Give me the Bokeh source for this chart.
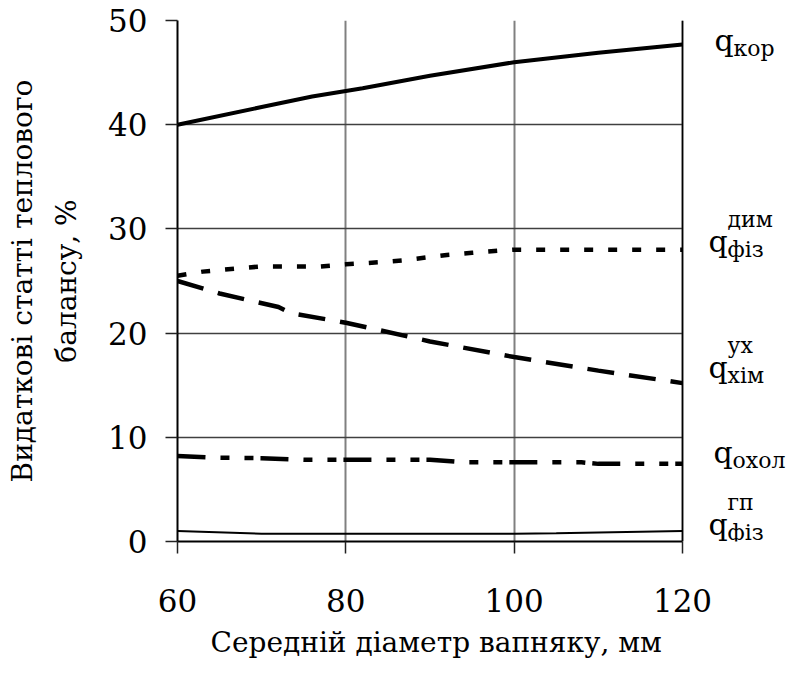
from bokeh.plotting import figure
from bokeh.models import Range1d, FixedTicker, Span, Title
from bokeh.core.properties import value
from bokeh.embed import file_html
from bokeh.resources import INLINE

# ---- data ----
x_ticks = [60, 80, 100, 120]
y_ticks = [0, 10, 20, 30, 40, 50]

x_kor = [60, 70, 76, 82, 90, 100, 110, 120]
y_kor = [40.0, 41.7, 42.7, 43.5, 44.7, 46.0, 46.9, 47.7]

x_dym = [60, 63, 67, 70, 77, 80, 84, 87, 90, 92, 95, 98, 100, 120]
y_dym = [25.5, 25.9, 26.2, 26.4, 26.4, 26.6, 26.8, 27.0, 27.3, 27.5, 27.7, 27.9, 28.0, 28.0]

x_xim = [60, 65, 72, 73.5, 80, 90, 100, 110, 120]
y_xim = [25.0, 23.8, 22.5, 21.9, 21.0, 19.2, 17.7, 16.4, 15.2]

x_oxol = [60, 64, 70, 75, 90, 94, 100, 108, 110, 120]
y_oxol = [8.2, 8.05, 8.0, 7.85, 7.85, 7.6, 7.6, 7.6, 7.45, 7.45]

x_gp = [60, 70, 100, 105, 120]
y_gp = [1.0, 0.75, 0.75, 0.78, 1.0]

x_label = "Середній діаметр вапняку, мм"
y_label = "Видаткові статті теплового\nбалансу, %"

FONT = "DejaVu Serif"

W, H = 787, 674
B_LEFT, B_TOP, B_BOTTOM = 177, 20, 133
DATA_W = 505                      # pixel width of the 60..120 data area
FRAME_W, FRAME_H = W - B_LEFT, H - B_TOP - B_BOTTOM
ppx = DATA_W / (x_ticks[-1] - x_ticks[0])
ppu = FRAME_H / (y_ticks[-1] - y_ticks[0])
x_end = x_ticks[-1] + (FRAME_W - DATA_W) / ppx

p = figure(frame_width=FRAME_W, frame_height=FRAME_H,
           output_backend="svg", toolbar_location=None,
           x_range=Range1d(x_ticks[0], x_end), y_range=Range1d(y_ticks[0], y_ticks[-1]),
           min_border_left=B_LEFT, min_border_right=0,
           min_border_top=B_TOP, min_border_bottom=B_BOTTOM,
           background_fill_color="white", border_fill_color="white")
p.outline_line_color = None

p.xaxis.ticker = FixedTicker(ticks=x_ticks)
p.yaxis.ticker = FixedTicker(ticks=y_ticks)
p.xaxis.bounds = (x_ticks[0], x_ticks[-1])

for ax in (p.xaxis, p.yaxis):
    ax.axis_line_color = "black"
    ax.axis_line_width = 2
    ax.major_tick_line_color = "#222222"
    ax.major_tick_line_width = 1.5
    ax.major_tick_out = 12
    ax.major_tick_in = 0
    ax.minor_tick_line_color = None
    ax.major_label_text_font = FONT
    ax.major_label_text_font_size = "31px"
    ax.major_label_text_color = "black"
    ax.axis_label_text_font = FONT
    ax.axis_label_text_font_size = "28px"
    ax.axis_label_text_font_style = "normal"
    ax.axis_label_text_color = "black"

p.yaxis.major_label_standoff = 18
p.xaxis.major_label_standoff = 35
p.yaxis.axis_label = y_label
p.yaxis.axis_label_standoff = 22
p.yaxis.axis_label_text_line_height = 1.32

# x-axis title, centred under the 60..120 span (the frame also holds the curve labels)
x_title_w = 449
p.add_layout(Title(text=x_label, align="left",
                   offset=(DATA_W - x_title_w) / 2 + 5,
                   text_font=FONT, text_font_size="28px", text_font_style="normal",
                   text_color="black", standoff=18), "below")

p.xgrid.grid_line_color = "#808080"
p.xgrid.grid_line_width = 2
p.ygrid.grid_line_color = "#404040"
p.ygrid.grid_line_width = 1.5
p.ygrid.cross_bounds = (x_ticks[0], x_ticks[-1])
p.add_layout(Span(location=x_ticks[-1], dimension="height", line_color="black", line_width=1.5))

p.line(x_kor, y_kor, line_color="black", line_width=4)
p.line(x_dym, y_dym, line_color="black", line_width=4.5, line_dash="9 15")
p.line(x_xim, y_xim, line_color="black", line_width=4.5, line_dash="27 15")
p.line(x_oxol, y_oxol, line_color="black", line_width=4.5, line_dash="28 15 9 15 9 7")
p.line(x_gp, y_gp, line_color="black", line_width=2)

# ---- curve labels to the right of the plot ----
Q_FS, S_FS = 30, 22
SHIFT = 0.28   # text baseline correction, in em
# (sub, sup, end value, q x px right of 120, q baseline px below the end value)
curve_labels = [
    ("кор", None, y_kor[-1], 32, 4),
    ("фіз", "дим", y_dym[-1], 26, 0),
    ("хім", "ух", y_xim[-1], 26, -7),
    ("охол", None, y_oxol[-1], 31, -3),
    ("фіз", "гп", y_gp[-1], 26, 2),
]
mx, my, sx, sy, st = [], [], [], [], []
for sub, sup, yv, dx, dy in curve_labels:
    mx.append(x_ticks[-1] + dx / ppx)
    my.append(yv - (dy - SHIFT * Q_FS) / ppu)
    sx.append(x_ticks[-1] + (dx + 19) / ppx)
    sy.append(yv - (dy + 6 - SHIFT * S_FS) / ppu)
    st.append(sub)
    if sup:
        sx.append(x_ticks[-1] + (dx + 19) / ppx)
        sy.append(yv - (dy - 24 - SHIFT * S_FS) / ppu)
        st.append(sup)

p.text(x=mx, y=my, text=["q"] * len(mx), text_font=value(FONT), text_font_size=f"{Q_FS}px",
       text_color="black", text_baseline="alphabetic", text_align="left")
p.text(x=sx, y=sy, text=st, text_font=value(FONT), text_font_size=f"{S_FS}px",
       text_color="black", text_baseline="alphabetic", text_align="left")

open("out.html", "w").write(file_html(p, INLINE))
